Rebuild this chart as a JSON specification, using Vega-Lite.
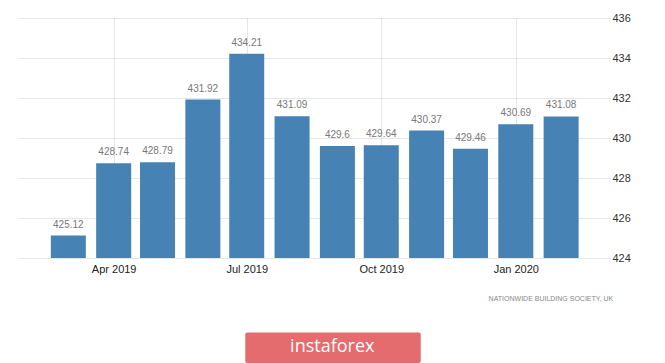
{
  "$schema": "https://vega.github.io/schema/vega-lite/v6.json",
  "width": 592,
  "height": 240,
  "autosize": {"type": "none"},
  "padding": {"left": 18, "top": 18, "right": 55, "bottom": 105},
  "background": "white",
  "config": {
    "view": {"stroke": null},
    "font": "Liberation Sans",
    "axisY": {
      "grid": true,
      "gridDash": [1, 1],
      "gridColor": "#cccccc",
      "ticks": false,
      "domain": false,
      "labelPadding": 2,
      "labelFontSize": 11,
      "labelColor": "#333333",
      "labelOverlap": false,
      "tickCount": 12
    }
  },
  "data": {
    "values": [
      {"month": "2019-03-01", "value": 425.12},
      {"month": "2019-04-01", "value": 428.74},
      {"month": "2019-05-01", "value": 428.79},
      {"month": "2019-06-01", "value": 431.92},
      {"month": "2019-07-01", "value": 434.21},
      {"month": "2019-08-01", "value": 431.09},
      {"month": "2019-09-01", "value": 429.6},
      {"month": "2019-10-01", "value": 429.64},
      {"month": "2019-11-01", "value": 430.37},
      {"month": "2019-12-01", "value": 429.46},
      {"month": "2020-01-01", "value": 430.69},
      {"month": "2020-02-01", "value": 431.08}
    ]
  },
  "layer": [
    {
      "mark": {"type": "bar", "size": 35, "color": "#4682b4"},
      "encoding": {
        "x": {
          "field": "month",
          "type": "temporal",
          "scale": {
            "type": "utc",
            "domain": [
              {"year": 2019, "month": 1, "date": 29, "utc": true},
              {"year": 2020, "month": 3, "date": 2, "utc": true}
            ]
          },
          "axis": {
            "values": [
              {"year": 2019, "month": 4, "date": 1, "utc": true},
              {"year": 2019, "month": 7, "date": 1, "utc": true},
              {"year": 2019, "month": 10, "date": 1, "utc": true},
              {"year": 2020, "month": 1, "date": 1, "utc": true}
            ],
            "labelExpr": "utcFormat(datum.value, '%b %Y')",
            "grid": true,
            "gridDash": [1, 1],
            "gridColor": "#cccccc",
            "ticks": false,
            "domain": false,
            "labelPadding": 5,
            "labelFontSize": 11,
            "labelColor": "#222222",
            "labelFlush": false,
            "title": "NATIONWIDE BUILDING SOCIETY, UK",
            "titleFontSize": 7,
            "titleFontWeight": "normal",
            "titleColor": "#888888",
            "titleAnchor": "end",
            "titleAlign": "right",
            "titleBaseline": "alphabetic",
            "titleX": 594.7,
            "titleY": 42.5
          }
        },
        "y": {
          "field": "value",
          "type": "quantitative",
          "scale": {"domain": [424, 436], "zero": false, "nice": false},
          "axis": {
            "orient": "right",
            "values": [424, 426, 428, 430, 432, 434, 436],
            "tickCount": 12,
            "title": null
          }
        },
        "y2": {"datum": 424}
      }
    },
    {
      "mark": {"type": "text", "baseline": "bottom", "dy": -6, "fontSize": 10, "color": "#777777"},
      "encoding": {
        "x": {"field": "month", "type": "temporal"},
        "y": {"field": "value", "type": "quantitative"},
        "text": {"field": "value", "type": "nominal"}
      }
    },
    {
      "data": {"values": [{"brand": "instaforex"}]},
      "mark": {"type": "rect", "color": "#e46c6e", "cornerRadius": 2},
      "encoding": {
        "x": {"datum": {"year": 2019, "month": 6, "date": 30, "utc": true}, "type": "temporal"},
        "x2": {"datum": {"year": 2019, "month": 10, "date": 28, "utc": true}},
        "y": {"datum": 420.27, "type": "quantitative"},
        "y2": {"datum": 418.75}
      }
    },
    {
      "data": {"values": [{"brand": "instaforex"}]},
      "mark": {"type": "text", "baseline": "alphabetic", "align": "center", "fontSize": 18, "color": "white", "font": "Open Sans"},
      "encoding": {
        "x": {"datum": {"year": 2019, "month": 8, "date": 28, "hours": 12, "utc": true}, "type": "temporal"},
        "y": {"datum": 419.28, "type": "quantitative"},
        "text": {"field": "brand"}
      }
    }
  ]
}
